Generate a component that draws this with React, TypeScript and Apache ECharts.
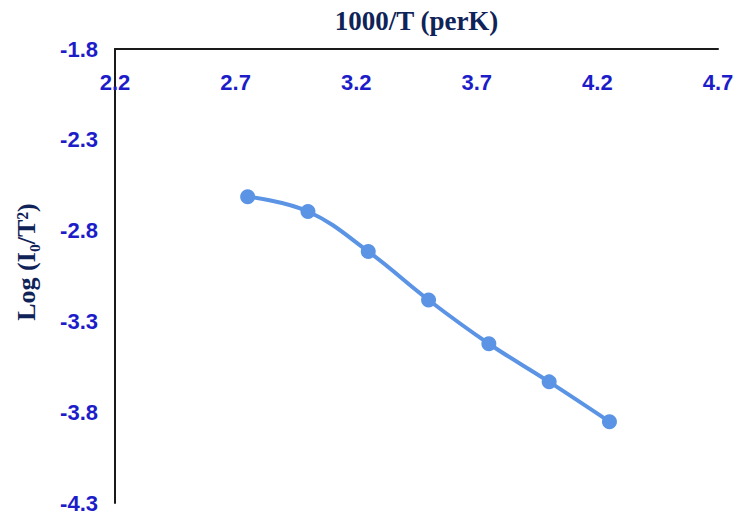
import React, { useEffect, useRef } from "react";
import * as echarts from "echarts";

const xValues = [2.75, 3.0, 3.25, 3.5, 3.75, 4.0, 4.25];
const yValues = [-2.613, -2.695, -2.915, -3.182, -3.423, -3.633, -3.852];
const xTicks = [2.2, 2.7, 3.2, 3.7, 4.2, 4.7];
const yTicks = [-4.3, -3.8, -3.3, -2.8, -2.3, -1.8];

export default function App() {
  const ref = useRef<HTMLDivElement>(null);
  useEffect(() => {
    if (!ref.current) return;
    const chart = echarts.init(ref.current, null, { renderer: "svg" });
    const labelStyle = {
      color: "#1c1cc9",
      fontFamily: "Liberation Sans, Arial, sans-serif",
      fontWeight: "bold" as const,
      fontSize: 22,
    };
    chart.setOption({
      animation: false,
      backgroundColor: "#ffffff",
      grid: { left: 115, top: 49, right: 22, bottom: 11, outerBoundsMode: "none", containLabel: false },
      xAxis: {
        type: "value",
        position: "top",
        min: 2.2,
        max: 4.7,
        name: "1000/T (perK)",
        nameLocation: "middle",
        nameGap: 15,
        nameMoveOverlap: false,
        nameTextStyle: {
          color: "#0f2358",
          fontFamily: "Liberation Serif, Times New Roman, serif",
          fontWeight: "bold",
          fontSize: 27,
        },
        axisLine: { show: true, lineStyle: { color: "#1a1a1a", width: 2 } },
        axisTick: { show: false },
        splitLine: { show: false },
        axisLabel: {
          ...labelStyle,
          inside: true,
          margin: 22,
          customValues: xTicks,
          formatter: (v: number) => v.toFixed(1),
          showMinLabel: true,
          showMaxLabel: true,
        },
      },
      yAxis: {
        type: "value",
        min: -4.3,
        max: -1.8,
        name: "Log (I₀/T²)",
        nameLocation: "middle",
        nameGap: 76,
        nameMoveOverlap: false,
        nameTextStyle: {
          color: "#0f2358",
          fontFamily: "Liberation Serif, DejaVu Serif, serif",
          fontWeight: "bold",
          fontSize: 26,
          padding: [0, 0, 0, 28],
        },
        axisLine: { show: true, lineStyle: { color: "#1a1a1a", width: 2 } },
        axisTick: { show: false },
        splitLine: { show: false },
        axisLabel: {
          ...labelStyle,
          margin: 17,
          customValues: yTicks,
          formatter: (v: number) => v.toFixed(1),
          showMinLabel: true,
          showMaxLabel: true,
        },
      },
      series: [
        {
          type: "line",
          data: xValues.map((x, i) => [x, yValues[i]]),
          smooth: 0.4,
          symbol: "circle",
          symbolSize: 15,
          itemStyle: { color: "#5b94e5" },
          lineStyle: { color: "#5b94e5", width: 4 },
        },
      ],
    });
    return () => chart.dispose();
  }, []);
  return (
    <div
      ref={ref}
      style={{ position: "fixed", left: 0, top: 0, width: 740, height: 514 }}
    />
  );
}
